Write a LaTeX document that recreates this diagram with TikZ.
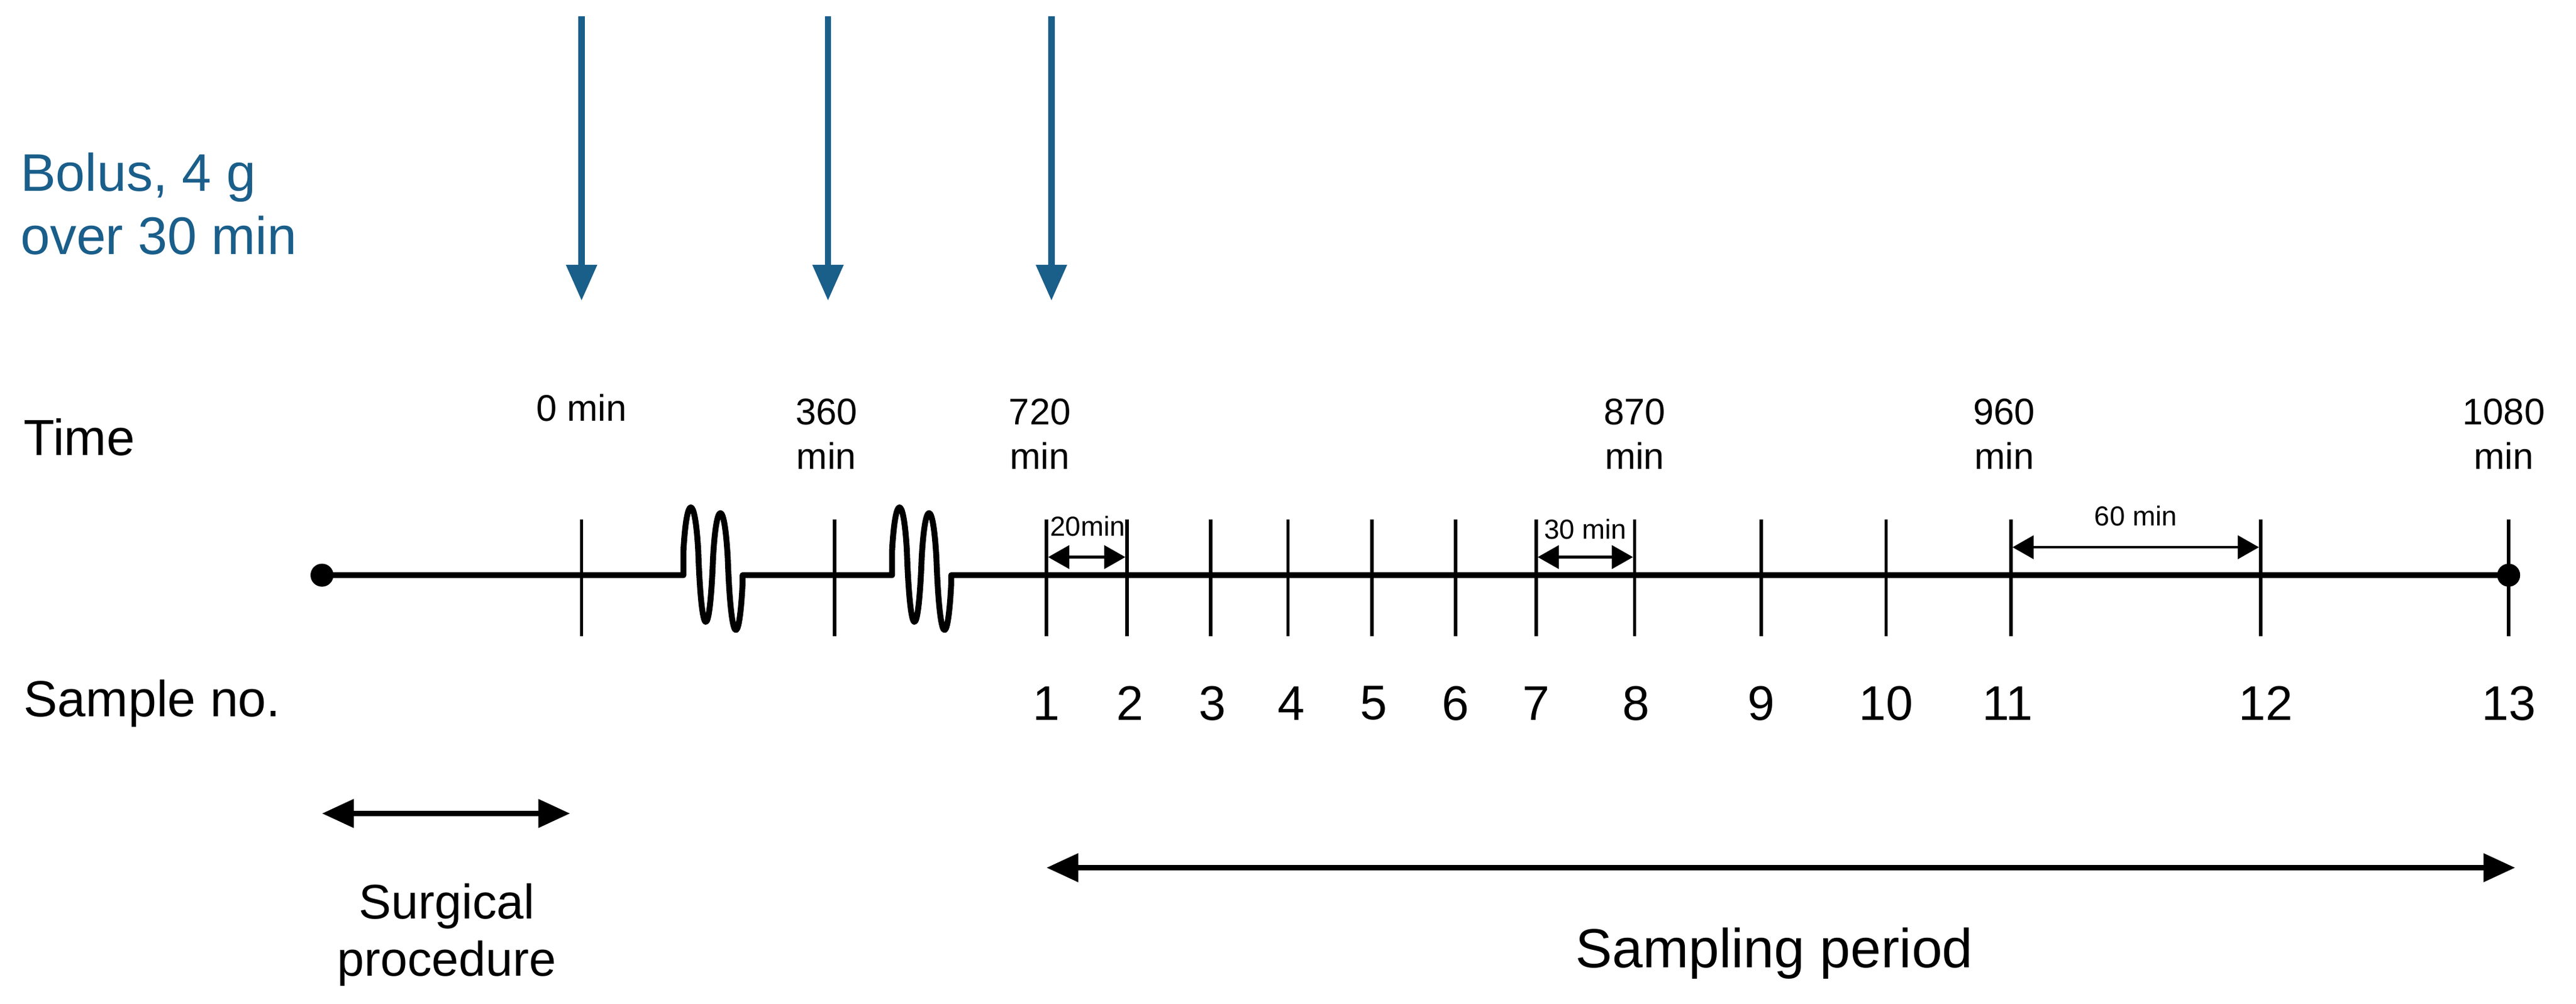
\documentclass[tikz,border=0pt]{standalone}
\usepackage{fontspec}
\setmainfont{Liberation Sans}
\usetikzlibrary{arrows.meta}
\definecolor{blu}{HTML}{1A5E8A}
\begin{document}
\begin{tikzpicture}[x=0.0273cm,y=-0.0273cm,
  tick/.style={line width=1.6pt},
  axis/.style={line width=2.8pt},
  bolus/.style={blu,line width=3pt,-{Triangle[length=17pt,width=14pt]}},
  dim/.style={line width=1.3pt,{Triangle[length=10pt,width=11pt]}-{Triangle[length=10pt,width=11pt]}},
  big/.style={line width=2.6pt,{Triangle[length=15pt,width=13pt]}-{Triangle[length=15pt,width=13pt]}},
  lab/.style={font=\fontsize{17.5}{21}\selectfont,align=center},
  num/.style={font=\fontsize{23}{27}\selectfont},
  sm/.style={font=\fontsize{13}{15}\selectfont},
  head/.style={font=\fontsize{24}{29}\selectfont,anchor=west}]
\useasboundingbox (0,0) rectangle (1568,610.6);
% bolus arrows
\foreach \x/\n in {354/a,504/b,640/c}{
  \coordinate (\n s) at (\x,10); \coordinate (\n e) at (\x,183);
  \draw[bolus] (\n s) -- (\n e);}
\node[head,blu,align=left,font=\fontsize{25}{30}\selectfont] (bol) at (8,124) {Bolus, 4 g\\over 30 min};
\node[head] (time) at (10,266) {Time};
\node[head] (samp) at (10,428) {Sample no.};
% time labels
\node[lab] (t0) at (354,248) {0 min};
\node[lab] (t360) at (503,264) {360\\min};
\node[lab] (t720) at (633,264) {720\\min};
\node[lab] (t870) at (995,264) {870\\min};
\node[lab] (t960) at (1220,264) {960\\min};
\node[lab] (t1080) at (1524,264) {1080\\min};
% axis
\coordinate (L) at (196,350); \coordinate (R) at (1527,350);
\draw[axis,line join=round] (L) -- (416,350) -- (416,335) .. controls (418,300) and (423,300) .. (425,335)
  .. controls (427,392) and (432,392) .. (434,340)
  .. controls (436,303) and (441,303) .. (443,340)
  .. controls (445,395) and (450,395) .. (452,355) -- (452,350)
  -- (543,350) -- (543,335) .. controls (545,300) and (550,300) .. (552,335)
  .. controls (554,392) and (559,392) .. (561,340)
  .. controls (563,303) and (568,303) .. (570,340)
  .. controls (572,395) and (577,395) .. (579,355) -- (579,350) -- (R);
\fill (L) circle (7); \fill (R) circle (7);
\foreach \x in {354,508,637,686,737,784,835,886,935,995,1072,1148,1224,1376,1527}
  \draw[tick] (\x,316) -- (\x,387);
% sample numbers
\foreach \x/\n in {637/1,688/2,738/3,786/4,836/5,886/6,935/7,996/8,1072/9,1148/10,1222/11,1379/12,1527/13}
  \node[num] (s\n) at (\x,428) {\n};
% small dimensions
\coordinate (d1a) at (638,339); \coordinate (d1b) at (685,339);
\draw[dim] (d1a) -- (d1b); \node[sm] (l20) at (662,320) {20min};
\coordinate (d2a) at (936,339); \coordinate (d2b) at (994,339);
\draw[dim] (d2a) -- (d2b); \node[sm] (l30) at (965,322) {30 min};
\coordinate (d3a) at (1225,333); \coordinate (d3b) at (1375,333);
\draw[dim] (d3a) -- (d3b); \node[sm] (l60) at (1300,314) {60 min};
% bottom
\coordinate (sa) at (196,495); \coordinate (sb) at (347,495);
\draw[big] (sa) -- (sb);
\node[num,align=center] (surg) at (272,569) {Surgical\\procedure};
\coordinate (pa) at (637,528); \coordinate (pb) at (1531,528);
\draw[big] (pa) -- (pb);
\node[font=\fontsize{26}{30}\selectfont] (sp) at (1080,580) {Sampling period};
\end{tikzpicture}
\end{document}
